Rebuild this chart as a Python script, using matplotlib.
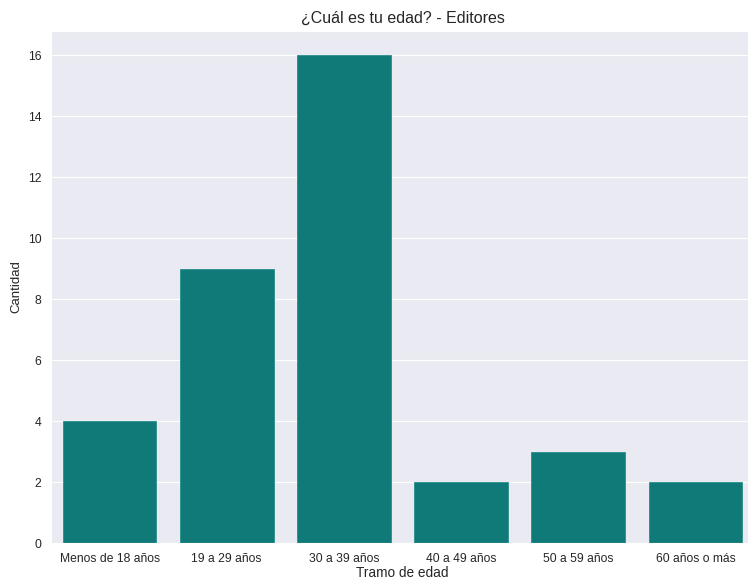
import matplotlib
matplotlib.use('Agg')
import matplotlib.pyplot as plt
import seaborn as sns

categorias = ['Menos de 18 años', '19 a 29 años', '30 a 39 años',
              '40 a 49 años', '50 a 59 años', '60 años o más']
cantidad = [4, 9, 16, 2, 3, 2]

sns.set_style('darkgrid')
plt.rcParams['font.family'] = ['Liberation Sans', 'DejaVu Sans']

fig = plt.figure(figsize=(7.48, 5.79), dpi=100)
ax = fig.add_axes([51 / 748, 36 / 579, 703 / 748, 512 / 579])

ax.bar(range(len(categorias)), cantidad, width=0.8, color='#107a78',
       edgecolor='#2a8e8b', linewidth=0.6)
ax.set_xticks(range(len(categorias)))
ax.set_xticklabels(categorias)
ax.set_xlim(-0.5, len(categorias) - 0.5)
ax.set_ylim(0, 16.8)
ax.set_yticks(range(0, 17, 2))
ax.grid(axis='x', visible=False)
ax.tick_params(labelsize=8.7, colors='#262626')

ax.set_xlabel('Tramo de edad', fontsize=9.8, color='#262626', labelpad=1)
ax.set_ylabel('Cantidad', fontsize=9.5, color='#262626')
ax.set_title('¿Cuál es tu edad? - Editores', fontsize=11.5, color='#262626', pad=6)

fig.savefig('out.png', dpi=100)
